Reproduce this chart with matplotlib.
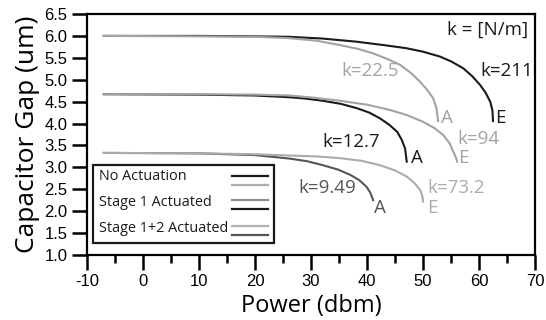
import matplotlib
matplotlib.use("Agg")
import matplotlib.pyplot as plt
from matplotlib.patches import Rectangle
from matplotlib.ticker import MultipleLocator, FormatStrFormatter

plt.rcParams["font.family"] = ["Liberation Sans", "DejaVu Sans"]
plt.rcParams["axes.unicode_minus"] = False

# curves: power (dbm) vs capacitor gap (um)
# No Actuation
x_k211 = [-7, 10, 20, 26, 32, 38, 43, 47, 50, 53, 55, 57.2, 58.8, 60.2, 61.2, 62.0, 62.4, 62.5]
y_k211 = [6.0, 6.0, 5.99, 5.98, 5.94, 5.87, 5.79, 5.72, 5.64, 5.53, 5.42, 5.26, 5.08, 4.88, 4.70, 4.50, 4.30, 4.06]
x_k22 = [-7, 10, 20, 26, 31, 35.2, 38.5, 41.1, 43.7, 45.9, 47.8, 49.5, 50.8, 51.8, 52.4, 52.7]
y_k22 = [6.0, 5.99, 5.98, 5.95, 5.89, 5.79, 5.70, 5.60, 5.47, 5.34, 5.16, 4.95, 4.76, 4.58, 4.35, 4.06]
# Stage 1 Actuated
x_k127 = [-7, 10, 20, 26.2, 29, 32.1, 35.3, 38.2, 40.4, 42.3, 44.0, 45.4, 46.2, 46.8, 47.1]
y_k127 = [4.67, 4.66, 4.64, 4.60, 4.57, 4.52, 4.45, 4.35, 4.25, 4.12, 3.97, 3.81, 3.63, 3.43, 3.13]
x_k94 = [-7, 10, 20, 26.2, 30.5, 35.2, 40, 44.1, 47.2, 50.0, 52.0, 53.6, 54.7, 55.4, 55.9, 56.1]
y_k94 = [4.67, 4.67, 4.66, 4.64, 4.59, 4.52, 4.43, 4.31, 4.19, 4.04, 3.90, 3.74, 3.56, 3.36, 3.22, 3.13]
# Stage 1+2 Actuated
x_k949 = [-7, 10, 20, 26.2, 29.3, 32.1, 34.8, 37.0, 38.6, 39.9, 40.6, 41.1]
y_k949 = [3.33, 3.32, 3.28, 3.20, 3.14, 3.05, 2.95, 2.83, 2.71, 2.56, 2.42, 2.25]
x_k732 = [-7, 10, 20, 26.2, 31, 35.2, 39, 42.3, 45, 47.1, 48.5, 49.5, 49.9, 50.0]
y_k732 = [3.33, 3.32, 3.30, 3.27, 3.25, 3.21, 3.15, 3.05, 2.93, 2.79, 2.64, 2.48, 2.34, 2.22]

BLACK = "#1a1a1a"
GRAY = "#a3a3a3"
DARK = "#555555"
LIGHT = "#ababab"
lab_font = ["Open Sans", "DejaVu Sans"]

fig = plt.figure(figsize=(5.46, 3.2), dpi=100)
ax = fig.add_axes([87 / 546, 1 - 255 / 320, 448 / 546, 241 / 320])

lw = 1.5
ax.plot(x_k211, y_k211, color=BLACK, lw=lw)
ax.plot(x_k22, y_k22, color=GRAY, lw=lw)
ax.plot(x_k127, y_k127, color=BLACK, lw=lw)
ax.plot(x_k94, y_k94, color=GRAY, lw=lw)
ax.plot(x_k949, y_k949, color=DARK, lw=lw)
ax.plot(x_k732, y_k732, color=LIGHT, lw=lw)

ax.set_xlim(-10, 70)
ax.set_ylim(1.0, 6.5)
ax.xaxis.set_major_locator(MultipleLocator(10))
ax.xaxis.set_minor_locator(MultipleLocator(5))
ax.yaxis.set_major_locator(MultipleLocator(0.5))
ax.yaxis.set_major_formatter(FormatStrFormatter("%.1f"))
for s in ax.spines.values():
    s.set_linewidth(1.6)
ax.tick_params(axis="both", which="major", length=11, width=1.8, labelsize=12, pad=3)
ax.tick_params(axis="x", which="minor", length=6, width=1.8)

ax.set_xlabel("Power (dbm)", fontsize=17, family=lab_font, labelpad=3)
ax.set_ylabel("Capacitor Gap (um)", fontsize=19, family=lab_font, labelpad=3)

fs = 13.5
ax.text(68.8, 6.13, "k = [N/m]", ha="right", va="center", fontsize=fs, family=lab_font, color=BLACK)
ax.text(60.2, 5.21, "k=211", ha="left", va="center", fontsize=fs, family=lab_font, color=BLACK)
ax.text(35.5, 5.21, "k=22.5", ha="left", va="center", fontsize=fs, family=lab_font, color=GRAY)
ax.text(53.2, 4.13, "A", ha="left", va="center", fontsize=fs, family=lab_font, color=GRAY)
ax.text(62.8, 4.13, "E", ha="left", va="center", fontsize=fs, family=lab_font, color=BLACK)
ax.text(32.0, 3.59, "k=12.7", ha="left", va="center", fontsize=fs, family=lab_font, color=BLACK)
ax.text(56.2, 3.64, "k=94", ha="left", va="center", fontsize=fs, family=lab_font, color=GRAY)
ax.text(47.8, 3.22, "A", ha="left", va="center", fontsize=fs, family=lab_font, color=BLACK)
ax.text(56.2, 3.22, "E", ha="left", va="center", fontsize=fs, family=lab_font, color=GRAY)
ax.text(27.7, 2.54, "k=9.49", ha="left", va="center", fontsize=fs, family=lab_font, color=DARK)
ax.text(41.3, 2.07, "A", ha="left", va="center", fontsize=fs, family=lab_font, color=DARK)
ax.text(50.8, 2.54, "k=73.2", ha="left", va="center", fontsize=fs, family=lab_font, color=LIGHT)
ax.text(50.8, 2.07, "E", ha="left", va="center", fontsize=fs, family=lab_font, color=LIGHT)

# legend box drawn by hand (two lines per entry)
T = ax.transAxes
ax.add_patch(Rectangle((6 / 448, 12 / 241), 181 / 448, 78 / 241, transform=T,
                       fill=True, facecolor="white", edgecolor=BLACK, lw=1.6, zorder=5))
leg_labels = ["No Actuation", "Stage 1 Actuated", "Stage 1+2 Actuated"]
leg_colors = [(BLACK, LIGHT), ("#8f8f8f", BLACK), ("#b3b3b3", DARK)]
leg_text_y = [177, 203, 229]
leg_line_y = [(176, 185), (200, 209), (226, 235)]
for lab, cols, ty, ly in zip(leg_labels, leg_colors, leg_text_y, leg_line_y):
    ax.text(12 / 448, (255 - ty) / 241, lab, transform=T, ha="left", va="center",
            fontsize=10.4, family=lab_font, color=BLACK, zorder=6)
    for c, yy in zip(cols, ly):
        ax.plot([145 / 448, 181 / 448], [(255 - yy) / 241] * 2, transform=T,
                color=c, lw=1.6, zorder=6)

fig.savefig("out.png", dpi=100)
